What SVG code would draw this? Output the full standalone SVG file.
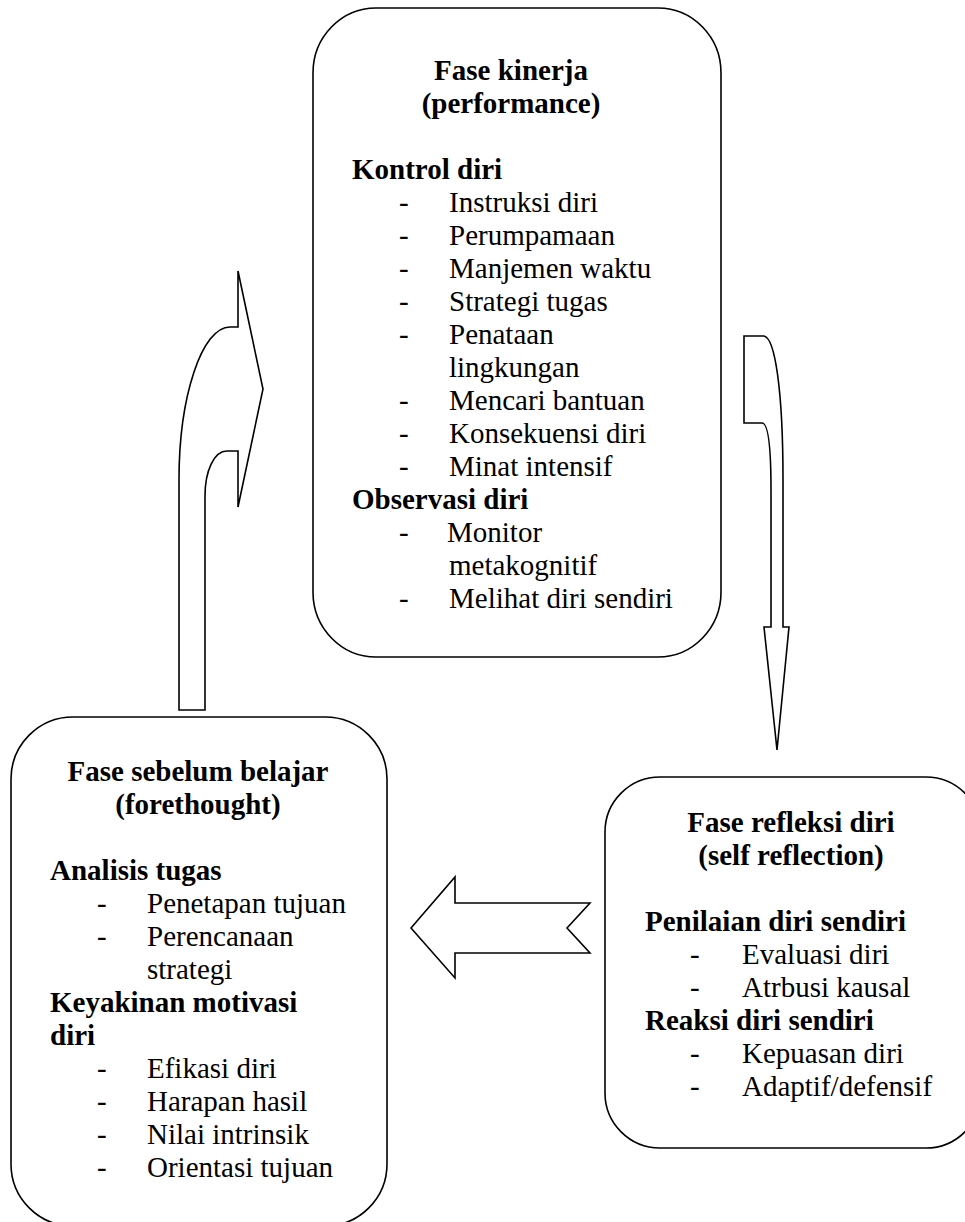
<svg xmlns="http://www.w3.org/2000/svg" width="965" height="1222" viewBox="0 0 965 1222">
<style>
.box{fill:#fff;stroke:#000;stroke-width:1.6}
.arr{fill:#fff;stroke:#000;stroke-width:1.6;stroke-linejoin:miter}
text{font-family:"Liberation Serif","Times New Roman",Times,serif;font-size:29px;fill:#000}
.t{font-weight:bold;text-anchor:middle}
.h{font-weight:bold}
</style>
<rect width="965" height="1222" fill="#fff"/>
<g id="connectors">
<path class="arr" d="M179,710 L179,480 C179,396 202,327 230,327 L238,327 L238,271 L263,389 L238,507 L238,451 L227,451 C214,451 205,471 205,496 L205,710 Z"/>
<path class="arr" d="M744,336 L764,336 C775,338 783,390 783,480 L783,627 L789,627 L777,750 L764,627 L771,627 L771,490 C771,445 768,423 762,423 L744,423 Z"/>
<path class="arr" d="M411,928 L455,877 L455,903 L590,903 L567,928 L590,953 L455,953 L455,978 Z"/>
</g>
<g id="node-kinerja">
<rect class="box" x="313" y="8" width="408" height="649" rx="63" ry="65"/>
<text class="t" x="511" y="80">Fase kinerja</text>
<text class="t" x="511" y="113">(performance)</text>
<text class="h" x="352" y="179">Kontrol diri</text>
<text x="399" y="212">-</text><text x="449" y="212">Instruksi diri</text>
<text x="399" y="245">-</text><text x="449" y="245">Perumpamaan</text>
<text x="399" y="278">-</text><text x="449" y="278">Manjemen waktu</text>
<text x="399" y="311">-</text><text x="449" y="311">Strategi tugas</text>
<text x="399" y="344">-</text><text x="449" y="344">Penataan</text>
<text x="449" y="377">lingkungan</text>
<text x="399" y="410">-</text><text x="449" y="410">Mencari bantuan</text>
<text x="399" y="443">-</text><text x="449" y="443">Konsekuensi diri</text>
<text x="399" y="476">-</text><text x="449" y="476">Minat intensif</text>
<text class="h" x="352" y="509">Observasi diri</text>
<text x="399" y="542">-</text><text x="447" y="542">Monitor</text>
<text x="449" y="575">metakognitif</text>
<text x="399" y="608">-</text><text x="449" y="608">Melihat diri sendiri</text>
</g>
<g id="node-sebelum">
<rect class="box" x="11" y="717" width="376" height="509" rx="62" ry="62"/>
<text class="t" x="198" y="781">Fase sebelum belajar</text>
<text class="t" x="198" y="814">(forethought)</text>
<text class="h" x="50" y="880">Analisis tugas</text>
<text x="97" y="913">-</text><text x="147" y="913">Penetapan tujuan</text>
<text x="97" y="946">-</text><text x="147" y="946">Perencanaan</text>
<text x="147" y="979">strategi</text>
<text class="h" x="50" y="1012">Keyakinan motivasi</text>
<text class="h" x="50" y="1045">diri</text>
<text x="97" y="1078">-</text><text x="147" y="1078">Efikasi diri</text>
<text x="97" y="1111">-</text><text x="147" y="1111">Harapan hasil</text>
<text x="97" y="1144">-</text><text x="147" y="1144">Nilai intrinsik</text>
<text x="97" y="1177">-</text><text x="147" y="1177">Orientasi tujuan</text>
</g>
<g id="node-refleksi">
<rect class="box" x="605" y="777" width="376" height="371" rx="55" ry="55"/>
<text class="t" x="791" y="832">Fase refleksi diri</text>
<text class="t" x="791" y="865">(self reflection)</text>
<text class="h" x="645" y="931">Penilaian diri sendiri</text>
<text x="690" y="964">-</text><text x="742" y="964">Evaluasi diri</text>
<text x="690" y="997">-</text><text x="742" y="997">Atrbusi kausal</text>
<text class="h" x="645" y="1030">Reaksi diri sendiri</text>
<text x="690" y="1063">-</text><text x="742" y="1063">Kepuasan diri</text>
<text x="690" y="1096">-</text><text x="742" y="1096">Adaptif/defensif</text>
</g>
</svg>
